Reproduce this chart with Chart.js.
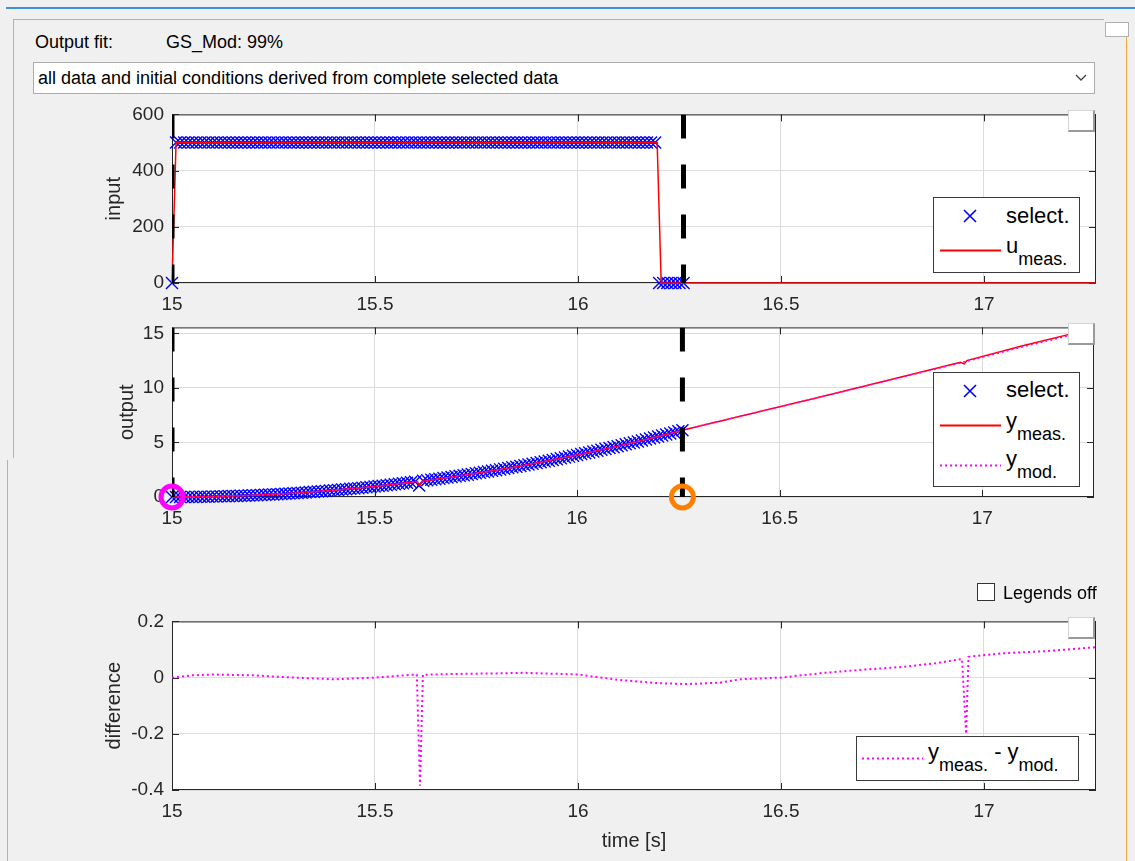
<!DOCTYPE html>
<html>
<head>
<meta charset="utf-8">
<script src="https://cdn.jsdelivr.net/npm/chart.js@4.4.0/dist/chart.umd.min.js"></script>
<style>
    body { margin: 0; background: #f0f0f0; font-family: "Liberation Sans", Arial, sans-serif; }
    #page { position: relative; width: 1135px; height: 861px; overflow: hidden; }
    canvas { position: absolute; left: 0; }
    .line { position: absolute; }
    .txt { position: absolute; font-size: 18px; line-height: 1; white-space: nowrap; color: #000; }
    .legend { position: absolute; background: #fff; border: 1px solid #3a3a3a; box-sizing: border-box; }
    .lg { position: absolute; font-size: 22px; line-height: 1; white-space: nowrap; color: #000; }
    .lg sub { font-size: 18px; vertical-align: -12px; line-height: 1; }
    .tbox { position: absolute; width: 24px; height: 19px; background: #fff; border: 1px solid #d4d4d4; border-right: 2px solid #9a9a9a; border-bottom: 2px solid #9a9a9a; }
    svg { position: absolute; overflow: visible; }
</style>
</head>
<body>
<div id="page">
    <div class="line" style="left:6px;top:7px;width:1129px;height:2px;background:#3c8fd8"></div>
    <div class="line" style="left:13px;top:19px;width:1091px;height:1px;background:#f4a640"></div>
    <div class="line" style="left:13px;top:19px;width:1px;height:439px;background:#f4a640"></div>
    <div class="line" style="left:7px;top:460px;width:1px;height:401px;background:#f4a640"></div>
    <div class="line" style="left:1126px;top:36px;width:1px;height:825px;background:#f4a640"></div>
    <div class="line" style="left:1105px;top:22px;width:22px;height:13px;background:#fff;border:1px solid #b0b0b0"></div>

    <div class="txt" style="left:35px;top:33px">Output fit:</div>
    <div class="txt" style="left:166px;top:33px">GS_Mod: 99%</div>
    <div class="line" style="left:33px;top:62px;width:1062px;height:32px;background:#fff;border:1px solid #acacac;box-sizing:border-box"></div>
    <div class="txt" style="left:38px;top:69px">all data and initial conditions derived from complete selected data</div>
    <svg style="left:1075px;top:74px" width="12" height="8"><polyline points="1,1 6,6 11,1" fill="none" stroke="#404040" stroke-width="1.3"/></svg>

    <canvas id="inputChart" width="1110" height="218" style="top:95px"></canvas>
    <canvas id="outputChart" width="1110" height="219" style="top:308px"></canvas>
    <canvas id="diffChart" width="1110" height="259" style="top:602px"></canvas>

    <div class="tbox" style="left:1068px;top:110px"></div>
    <div class="tbox" style="left:1068px;top:323px"></div>
    <div class="tbox" style="left:1068px;top:617px"></div>

    <!-- input legend -->
    <div class="legend" style="left:933px;top:197px;width:147px;height:76px"></div>
    <svg style="left:963px;top:209px" width="14" height="14"><path d="M1,1 L13,13 M13,1 L1,13" stroke="#0000ff" stroke-width="1.6"/></svg>
    <div class="lg" style="left:1006px;top:205px">select.</div>
    <svg style="left:940px;top:249px" width="61" height="3"><line x1="0" y1="1.5" x2="61" y2="1.5" stroke="#ff0000" stroke-width="1.8"/></svg>
    <div class="lg" style="left:1006px;top:235px">u<sub>meas.</sub></div>

    <!-- output legend -->
    <div class="legend" style="left:933px;top:372px;width:147px;height:115px"></div>
    <svg style="left:963px;top:384px" width="14" height="14"><path d="M1,1 L13,13 M13,1 L1,13" stroke="#0000ff" stroke-width="1.6"/></svg>
    <div class="lg" style="left:1006px;top:379px">select.</div>
    <svg style="left:940px;top:424px" width="61" height="3"><line x1="0" y1="1.5" x2="61" y2="1.5" stroke="#ff0000" stroke-width="1.8"/></svg>
    <div class="lg" style="left:1006px;top:410px">y<sub>meas.</sub></div>
    <svg style="left:940px;top:464px" width="61" height="3"><line x1="0" y1="1.5" x2="61" y2="1.5" stroke="#ff00ff" stroke-width="2" stroke-dasharray="2 3"/></svg>
    <div class="lg" style="left:1006px;top:448px">y<sub>mod.</sub></div>

    <!-- legends off checkbox -->
    <div class="line" style="left:977px;top:583px;width:18px;height:18px;background:#fff;border:1px solid #333;box-sizing:border-box"></div>
    <div class="txt" style="left:1003px;top:584px">Legends off</div>

    <!-- difference legend -->
    <div class="legend" style="left:856px;top:736px;width:223px;height:45px"></div>
    <svg style="left:862px;top:757px" width="61" height="3"><line x1="0" y1="1.5" x2="61" y2="1.5" stroke="#ff00ff" stroke-width="2" stroke-dasharray="2 3"/></svg>
    <div class="lg" style="left:928px;top:741px">y<sub>meas.</sub> - y<sub>mod.</sub></div>
</div>

<script>
// time axis limits
const tMin = 15;
const tMax = 17.276;

// measured input u
const uTime = [15.0, 15.01, 16.195, 16.205, 17.276];
const uMeas = [0, 500, 500, 0, 0];

// selected samples (x markers)
const selTime = [
    15.00, 15.01, 15.02, 15.03, 15.04, 15.05, 15.06, 15.07, 15.08, 15.09,
    15.10, 15.11, 15.12, 15.13, 15.14, 15.15, 15.16, 15.17, 15.18, 15.19,
    15.20, 15.21, 15.22, 15.23, 15.24, 15.25, 15.26, 15.27, 15.28, 15.29,
    15.30, 15.31, 15.32, 15.33, 15.34, 15.35, 15.36, 15.37, 15.38, 15.39,
    15.40, 15.41, 15.42, 15.43, 15.44, 15.45, 15.46, 15.47, 15.48, 15.49,
    15.50, 15.51, 15.52, 15.53, 15.54, 15.55, 15.56, 15.57, 15.58, 15.59,
    15.60, 15.61, 15.62, 15.63, 15.64, 15.65, 15.66, 15.67, 15.68, 15.69,
    15.70, 15.71, 15.72, 15.73, 15.74, 15.75, 15.76, 15.77, 15.78, 15.79,
    15.80, 15.81, 15.82, 15.83, 15.84, 15.85, 15.86, 15.87, 15.88, 15.89,
    15.90, 15.91, 15.92, 15.93, 15.94, 15.95, 15.96, 15.97, 15.98, 15.99,
    16.00, 16.01, 16.02, 16.03, 16.04, 16.05, 16.06, 16.07, 16.08, 16.09,
    16.10, 16.11, 16.12, 16.13, 16.14, 16.15, 16.16, 16.17, 16.18, 16.19,
    16.20, 16.21, 16.22, 16.23, 16.24, 16.25, 16.26
];
const selU = [
    0, 500, 500, 500, 500, 500, 500, 500, 500, 500,
    500, 500, 500, 500, 500, 500, 500, 500, 500, 500,
    500, 500, 500, 500, 500, 500, 500, 500, 500, 500,
    500, 500, 500, 500, 500, 500, 500, 500, 500, 500,
    500, 500, 500, 500, 500, 500, 500, 500, 500, 500,
    500, 500, 500, 500, 500, 500, 500, 500, 500, 500,
    500, 500, 500, 500, 500, 500, 500, 500, 500, 500,
    500, 500, 500, 500, 500, 500, 500, 500, 500, 500,
    500, 500, 500, 500, 500, 500, 500, 500, 500, 500,
    500, 500, 500, 500, 500, 500, 500, 500, 500, 500,
    500, 500, 500, 500, 500, 500, 500, 500, 500, 500,
    500, 500, 500, 500, 500, 500, 500, 500, 500, 500,
    0, 0, 0, 0, 0, 0, 0
];
const selY = [
    0.00, 0.00, 0.00, 0.00, 0.01, 0.01, 0.01, 0.02, 0.02, 0.03,
    0.04, 0.05, 0.06, 0.07, 0.08, 0.09, 0.10, 0.11, 0.12, 0.14,
    0.15, 0.17, 0.19, 0.20, 0.22, 0.24, 0.26, 0.28, 0.30, 0.32,
    0.35, 0.37, 0.39, 0.42, 0.45, 0.47, 0.50, 0.53, 0.56, 0.59,
    0.62, 0.65, 0.68, 0.71, 0.75, 0.78, 0.81, 0.85, 0.89, 0.92,
    0.96, 1.00, 1.04, 1.08, 1.12, 1.16, 1.21, 1.25, 1.30, 1.34,
    1.39, 1.05, 1.48, 1.53, 1.58, 1.63, 1.68, 1.73, 1.78, 1.83,
    1.89, 1.94, 2.00, 2.05, 2.11, 2.17, 2.22, 2.28, 2.34, 2.40,
    2.46, 2.53, 2.59, 2.65, 2.72, 2.78, 2.85, 2.91, 2.98, 3.05,
    3.12, 3.19, 3.26, 3.33, 3.40, 3.47, 3.55, 3.62, 3.70, 3.77,
    3.85, 3.93, 4.01, 4.08, 4.16, 4.24, 4.33, 4.41, 4.49, 4.57,
    4.66, 4.74, 4.83, 4.92, 5.00, 5.09, 5.18, 5.27, 5.36, 5.45,
    5.54, 5.64, 5.73, 5.82, 5.92, 6.02, 6.11
];

// measured and modelled output y
const yTime = [15.00, 15.10, 15.20, 15.30, 15.40, 15.50, 15.60, 15.605, 15.611, 15.618,
    15.70, 15.80, 15.90, 16.00, 16.10, 16.20, 16.26, 16.40, 16.60, 16.80,
    16.946, 16.956, 16.962, 17.10, 17.276];
const yMeas = [0, 0.04, 0.15, 0.35, 0.62, 0.96, 1.39, 1.41, 1.05, 1.44,
    1.89, 2.46, 3.12, 3.85, 4.66, 5.54, 6.11, 7.37, 9.17, 11.00,
    12.35, 12.20, 12.50, 13.85, 15.45];
const yMod = [0, 0.03, 0.14, 0.35, 0.63, 0.96, 1.38, 1.40, 1.43, 1.43,
    1.88, 2.45, 3.10, 3.84, 4.66, 5.56, 6.13, 7.37, 9.15, 10.96,
    12.28, 12.40, 12.43, 13.76, 15.34];

// difference y_meas - y_mod
const diffTime = [15.00, 15.05, 15.10, 15.20, 15.30, 15.40, 15.50, 15.59, 15.603, 15.611,
    15.618, 15.70, 15.80, 15.87, 16.00, 16.10, 16.20, 16.27, 16.35, 16.40,
    16.50, 16.60, 16.70, 16.80, 16.88, 16.946, 16.956, 16.962, 17.05, 17.15, 17.276];
const diffVal = [0, 0.008, 0.011, 0.008, 0.0, -0.006, 0.0, 0.010, 0.010, -0.385,
    0.010, 0.013, 0.015, 0.017, 0.011, -0.008, -0.020, -0.023, -0.018, -0.006,
    0.0, 0.016, 0.028, 0.038, 0.051, 0.066, -0.200, 0.074, 0.087, 0.094, 0.108];

// selection bounds and start/end circles
const selBounds = [15, 16.26];
const markTime = [15, 16.26];
const markVal = [0, 0];

const pts = (xs, ys) => xs.map((x, i) => ({ x: x, y: ys[i] }));
const font = { family: '"Liberation Sans", Arial, sans-serif' };
const inkColor = '#262626';
const tickText = v => String(Math.round(v * 1000) / 1000);

// white plot box, outer frame and inner tick marks like matlab axes
const frame = {
    id: 'frame',
    beforeDraw(chart) {
        const { ctx, chartArea: a } = chart;
        ctx.save();
        ctx.fillStyle = '#fff';
        ctx.fillRect(a.left, a.top, a.width, a.height);
        ctx.restore();
    },
    beforeDatasetsDraw(chart) {
        const { ctx, chartArea: a, scales } = chart;
        ctx.save();
        ctx.strokeStyle = inkColor;
        ctx.lineWidth = 1;
        ctx.strokeRect(a.left + 0.5, a.top + 0.5, a.width - 1, a.height - 1);
        ctx.beginPath();
        scales.x.ticks.forEach(t => {
            const px = Math.round(scales.x.getPixelForValue(t.value)) + 0.5;
            ctx.moveTo(px, a.bottom); ctx.lineTo(px, a.bottom - 7);
            ctx.moveTo(px, a.top); ctx.lineTo(px, a.top + 7);
        });
        scales.y.ticks.forEach(t => {
            const py = Math.round(scales.y.getPixelForValue(t.value)) + 0.5;
            ctx.moveTo(a.left, py); ctx.lineTo(a.left + 7, py);
            ctx.moveTo(a.right, py); ctx.lineTo(a.right - 7, py);
        });
        ctx.stroke();
        ctx.restore();
    }
};

function xAxis(height, title) {
    return {
        type: 'linear', min: tMin, max: tMax,
        grid: { color: '#dcdcdc', drawTicks: false },
        border: { display: false },
        ticks: { stepSize: 0.5, includeBounds: false, color: inkColor, padding: 10, maxRotation: 0,
                 callback: tickText, font: Object.assign({ size: 19 }, font) },
        title: title ? { display: true, text: title, color: inkColor, padding: { top: 0, bottom: 8 },
                         font: Object.assign({ size: 20 }, font) } : { display: false },
        afterFit: s => { s.height = height; }
    };
}

function yAxis(min, max, step, title, titlePad) {
    return {
        type: 'linear', min: min, max: max,
        grid: { color: '#dcdcdc', drawTicks: false },
        border: { display: false },
        ticks: { stepSize: step, includeBounds: false, color: inkColor, padding: 8,
                 callback: tickText, font: Object.assign({ size: 19 }, font) },
        title: { display: true, text: title, color: inkColor, padding: { top: titlePad, bottom: 0 },
                 font: Object.assign({ size: 20 }, font) },
        afterFit: s => { s.width = 172; }
    };
}

function boundLines(yMin, yMax) {
    return selBounds.map(b => ({
        data: [{ x: b, y: yMax }, { x: b, y: yMin }],
        showLine: true, pointRadius: 0, borderColor: '#000', borderWidth: 5,
        borderDash: [24, 26], borderCapStyle: 'butt', order: 1
    }));
}

const baseOptions = (scales, bottomPad) => ({
    responsive: false,
    animation: false,
    layout: { padding: { top: 15, right: 14, left: 0, bottom: bottomPad } },
    plugins: { legend: { display: false }, tooltip: { enabled: false } },
    scales: scales
});

// input
new Chart(document.getElementById('inputChart'), {
    type: 'scatter',
    data: {
        datasets: [
            { data: pts(selTime, selU), pointStyle: 'crossRot', pointRadius: 8.5, borderColor: '#0000ff',
              borderWidth: 1.4, showLine: false, clip: false, order: 3 },
            { data: pts(uTime, uMeas), showLine: true, pointRadius: 0, borderColor: '#ff0000',
              borderWidth: 1.5, clip: false, order: 2 },
            ...boundLines(0, 600)
        ]
    },
    options: baseOptions({ x: xAxis(30), y: yAxis(0, 600, 200, 'input', 102) }, 0),
    plugins: [frame]
});

// output
new Chart(document.getElementById('outputChart'), {
    type: 'scatter',
    data: {
        datasets: [
            { data: pts(selTime, selY), pointStyle: 'crossRot', pointRadius: 8.5, borderColor: '#0000ff',
              borderWidth: 1.4, showLine: false, clip: false, order: 4 },
            { data: pts(yTime, yMeas), showLine: true, pointRadius: 0, borderColor: '#ff0000',
              borderWidth: 1.5, clip: false, order: 3 },
            { data: pts(yTime, yMod), showLine: true, pointRadius: 0, borderColor: '#ff00ff',
              borderWidth: 1.5, borderDash: [2, 3], clip: false, order: 2 },
            ...boundLines(0, 15.54),
            { data: pts(markTime, markVal), showLine: false, pointStyle: 'circle', pointRadius: 11,
              pointBorderWidth: 5, pointBackgroundColor: 'rgba(0,0,0,0)',
              pointBorderColor: ['#ff00ff', '#ff8000'], clip: false, order: 0 }
        ]
    },
    options: baseOptions({ x: xAxis(30), y: yAxis(0, 15.54, 5, 'output', 115) }, 0),
    plugins: [frame]
});

// difference
new Chart(document.getElementById('diffChart'), {
    type: 'scatter',
    data: {
        datasets: [
            { data: pts(diffTime, diffVal), showLine: true, pointRadius: 0, borderColor: '#ff00ff',
              borderWidth: 2, borderDash: [2, 3], clip: false }
        ]
    },
    options: baseOptions({ x: xAxis(71, 'time [s]'), y: yAxis(-0.4, 0.2, 0.2, 'difference', 102) }, 0),
    plugins: [frame]
});
</script>
</body>
</html>
